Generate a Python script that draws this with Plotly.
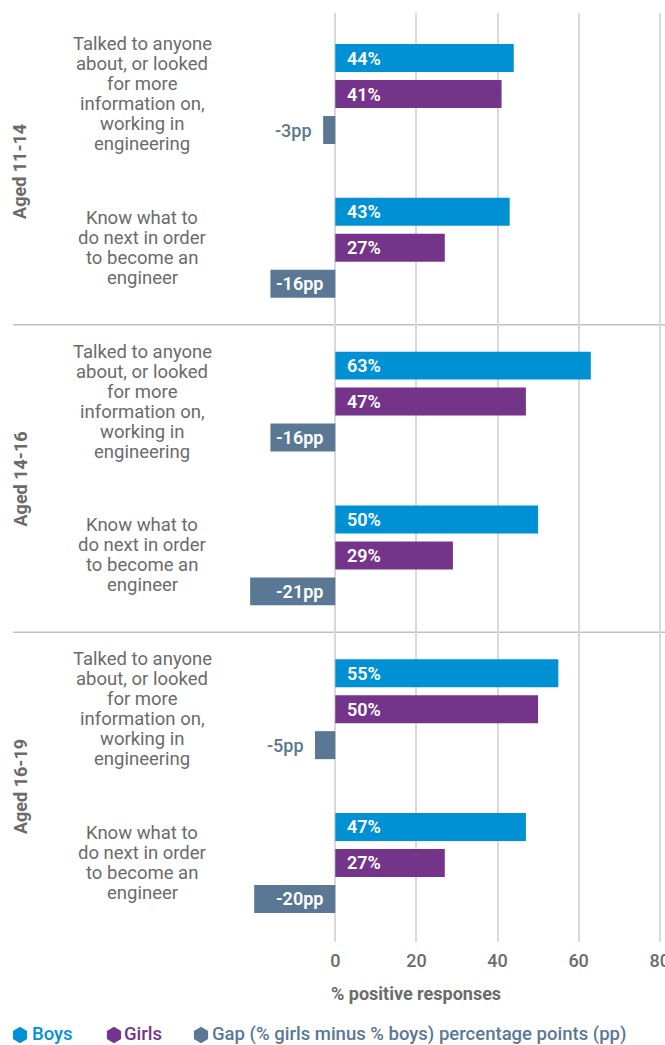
import plotly.graph_objects as go

# ---- data -------------------------------------------------------------
groups = ["Aged 11-14", "Aged 14-16", "Aged 16-19"]
question_lines = [
    ["Talked to anyone", "about, or looked", "for more",
     "information on,", "working in", "engineering"],
    ["Know what to", "do next in order", "to become an", "engineer"],
]
# one row per (age group, question), in display order
boys = [44, 43, 63, 50, 55, 47]
girls = [41, 27, 47, 29, 50, 27]
gap = [-3, -16, -16, -21, -5, -20]
x_ticks = [0, 20, 40, 60, 80]
series_names = ["Boys", "Girls", "Gap (% girls minus % boys) percentage points (pp)"]

# ---- style ------------------------------------------------------------
BLUE = "#0091d5"
PURPLE = "#74348a"
SLATE = "#5a7894"
GREY = "#6b6b6b"
GRID = "#d9d9d9"
SEP = "#bfbfbf"
FONT = "Roboto"

W, H = 665, 1045
ML, MR, MT, MB = 240, 0, 13, 103
BARGAP, GROUPGAP = 0.298, 0.222
SLOT = (1 - BARGAP) / 3          # distance between bars inside a row

rows = list(range(len(boys)))
n_q = len(question_lines)


def px_to_paper_x(px):
    return (px - ML) / (W - ML - MR)


def px_to_paper_y(px):
    return (H - MB - px) / (H - MT - MB)


fig = go.Figure()

series = list(zip(series_names, [boys, girls, gap], [BLUE, PURPLE, SLATE]))

for name, vals, col in series:
    fig.add_trace(go.Bar(
        x=vals, y=rows, orientation="h", name=name,
        marker=dict(color=col, line_width=0),
        showlegend=False, hoverinfo="skip",
    ))

ann = []
shapes = []

# value labels
for i in rows:
    for k, (name, vals, col) in enumerate(series):
        v = vals[i]
        yy = i + (k - 1) * SLOT
        if v >= 0:
            ann.append(dict(x=0, y=yy, text=f"{v}%", xanchor="left", xshift=10,
                            showarrow=False,
                            font=dict(family=FONT, size=18, color="white", weight=600)))
        elif abs(v) >= 10:
            ann.append(dict(x=0, y=yy, text=f"{v}pp", xanchor="right", xshift=-10,
                            showarrow=False,
                            font=dict(family=FONT, size=18, color="white", weight=600)))
        else:
            ann.append(dict(x=v, y=yy, text=f"{v}pp", xanchor="right", xshift=-9,
                            showarrow=False,
                            font=dict(family=FONT, size=18, color=col, weight=500)))

# question labels, one line each
for i in rows:
    lines = question_lines[i % n_q]
    n = len(lines)
    for k, line in enumerate(lines):
        ann.append(dict(x=px_to_paper_x(142), xref="paper", y=i, yref="y",
                        yshift=((n - 1) / 2 - k) * 20, text=line,
                        xanchor="center", yanchor="middle", showarrow=False,
                        font=dict(family=FONT, size=18.5, color=GREY)))

# age group labels
for g, label in enumerate(groups):
    ann.append(dict(x=px_to_paper_x(20), xref="paper", y=g * n_q + (n_q - 1) / 2,
                    yref="y", text=label, textangle=-90, showarrow=False,
                    xanchor="center", yanchor="middle",
                    font=dict(family=FONT, size=18, color=GREY, weight=700)))

# axis title
ann.append(dict(x=px_to_paper_x(415.5), xref="paper", y=px_to_paper_y(993),
                yref="paper", text="% positive responses", showarrow=False,
                xanchor="center", yanchor="middle",
                font=dict(family=FONT, size=18, color=GREY, weight=700)))

# separators between age groups
for g in range(1, len(groups)):
    yy = g * n_q - 0.5
    shapes.append(dict(type="line", xref="paper", yref="y",
                       x0=px_to_paper_x(13), x1=1, y0=yy, y1=yy,
                       line=dict(color=SEP, width=1.5), layer="below"))

# legend row: hexagon key + coloured name
LEG_Y = 1034
legend_icon_x = [20, 114, 201]
legend_text_x = [31, 123, 211]
R_HEX = 8.2
hex_path = ("M 0,{r} L {a},{h} L {a},-{h} L 0,-{r} L -{a},-{h} L -{a},{h} Z"
            .format(r=R_HEX, a=R_HEX * 0.866, h=R_HEX / 2))
for (name, vals, col), ix, tx in zip(series, legend_icon_x, legend_text_x):
    shapes.append(dict(type="path", xref="paper", yref="paper",
                       xsizemode="pixel", ysizemode="pixel",
                       xanchor=px_to_paper_x(ix), yanchor=px_to_paper_y(LEG_Y + 1),
                       path=hex_path, fillcolor=col, line=dict(width=0)))
    ann.append(dict(x=px_to_paper_x(tx), xref="paper", y=px_to_paper_y(LEG_Y),
                    yref="paper", text=name, showarrow=False, borderpad=0,
                    xanchor="left", yanchor="middle",
                    font=dict(family=FONT, size=18.5, color=col, weight=500)))

fig.update_layout(
    width=W, height=H,
    margin=dict(l=ML, r=MR, t=MT, b=MB, pad=0, autoexpand=False),
    paper_bgcolor="white", plot_bgcolor="white",
    barmode="group", bargap=BARGAP, bargroupgap=GROUPGAP,
    font=dict(family=FONT, size=18, color=GREY),
    annotations=ann, shapes=shapes, showlegend=False,
)
fig.update_xaxes(range=[-23.5, 81.3], tickvals=x_ticks, showgrid=True,
                 gridcolor=GRID, gridwidth=1.5, zeroline=False, showline=False,
                 ticklabelstandoff=6, ticklabeloverflow="allow",
                 tickfont=dict(family=FONT, size=18, color=GREY, weight=500),
                 fixedrange=True)
fig.update_yaxes(range=[5.514, -0.527], showticklabels=False, showgrid=False,
                 zeroline=False, showline=False, fixedrange=True)

fig.write_html("out.html")
